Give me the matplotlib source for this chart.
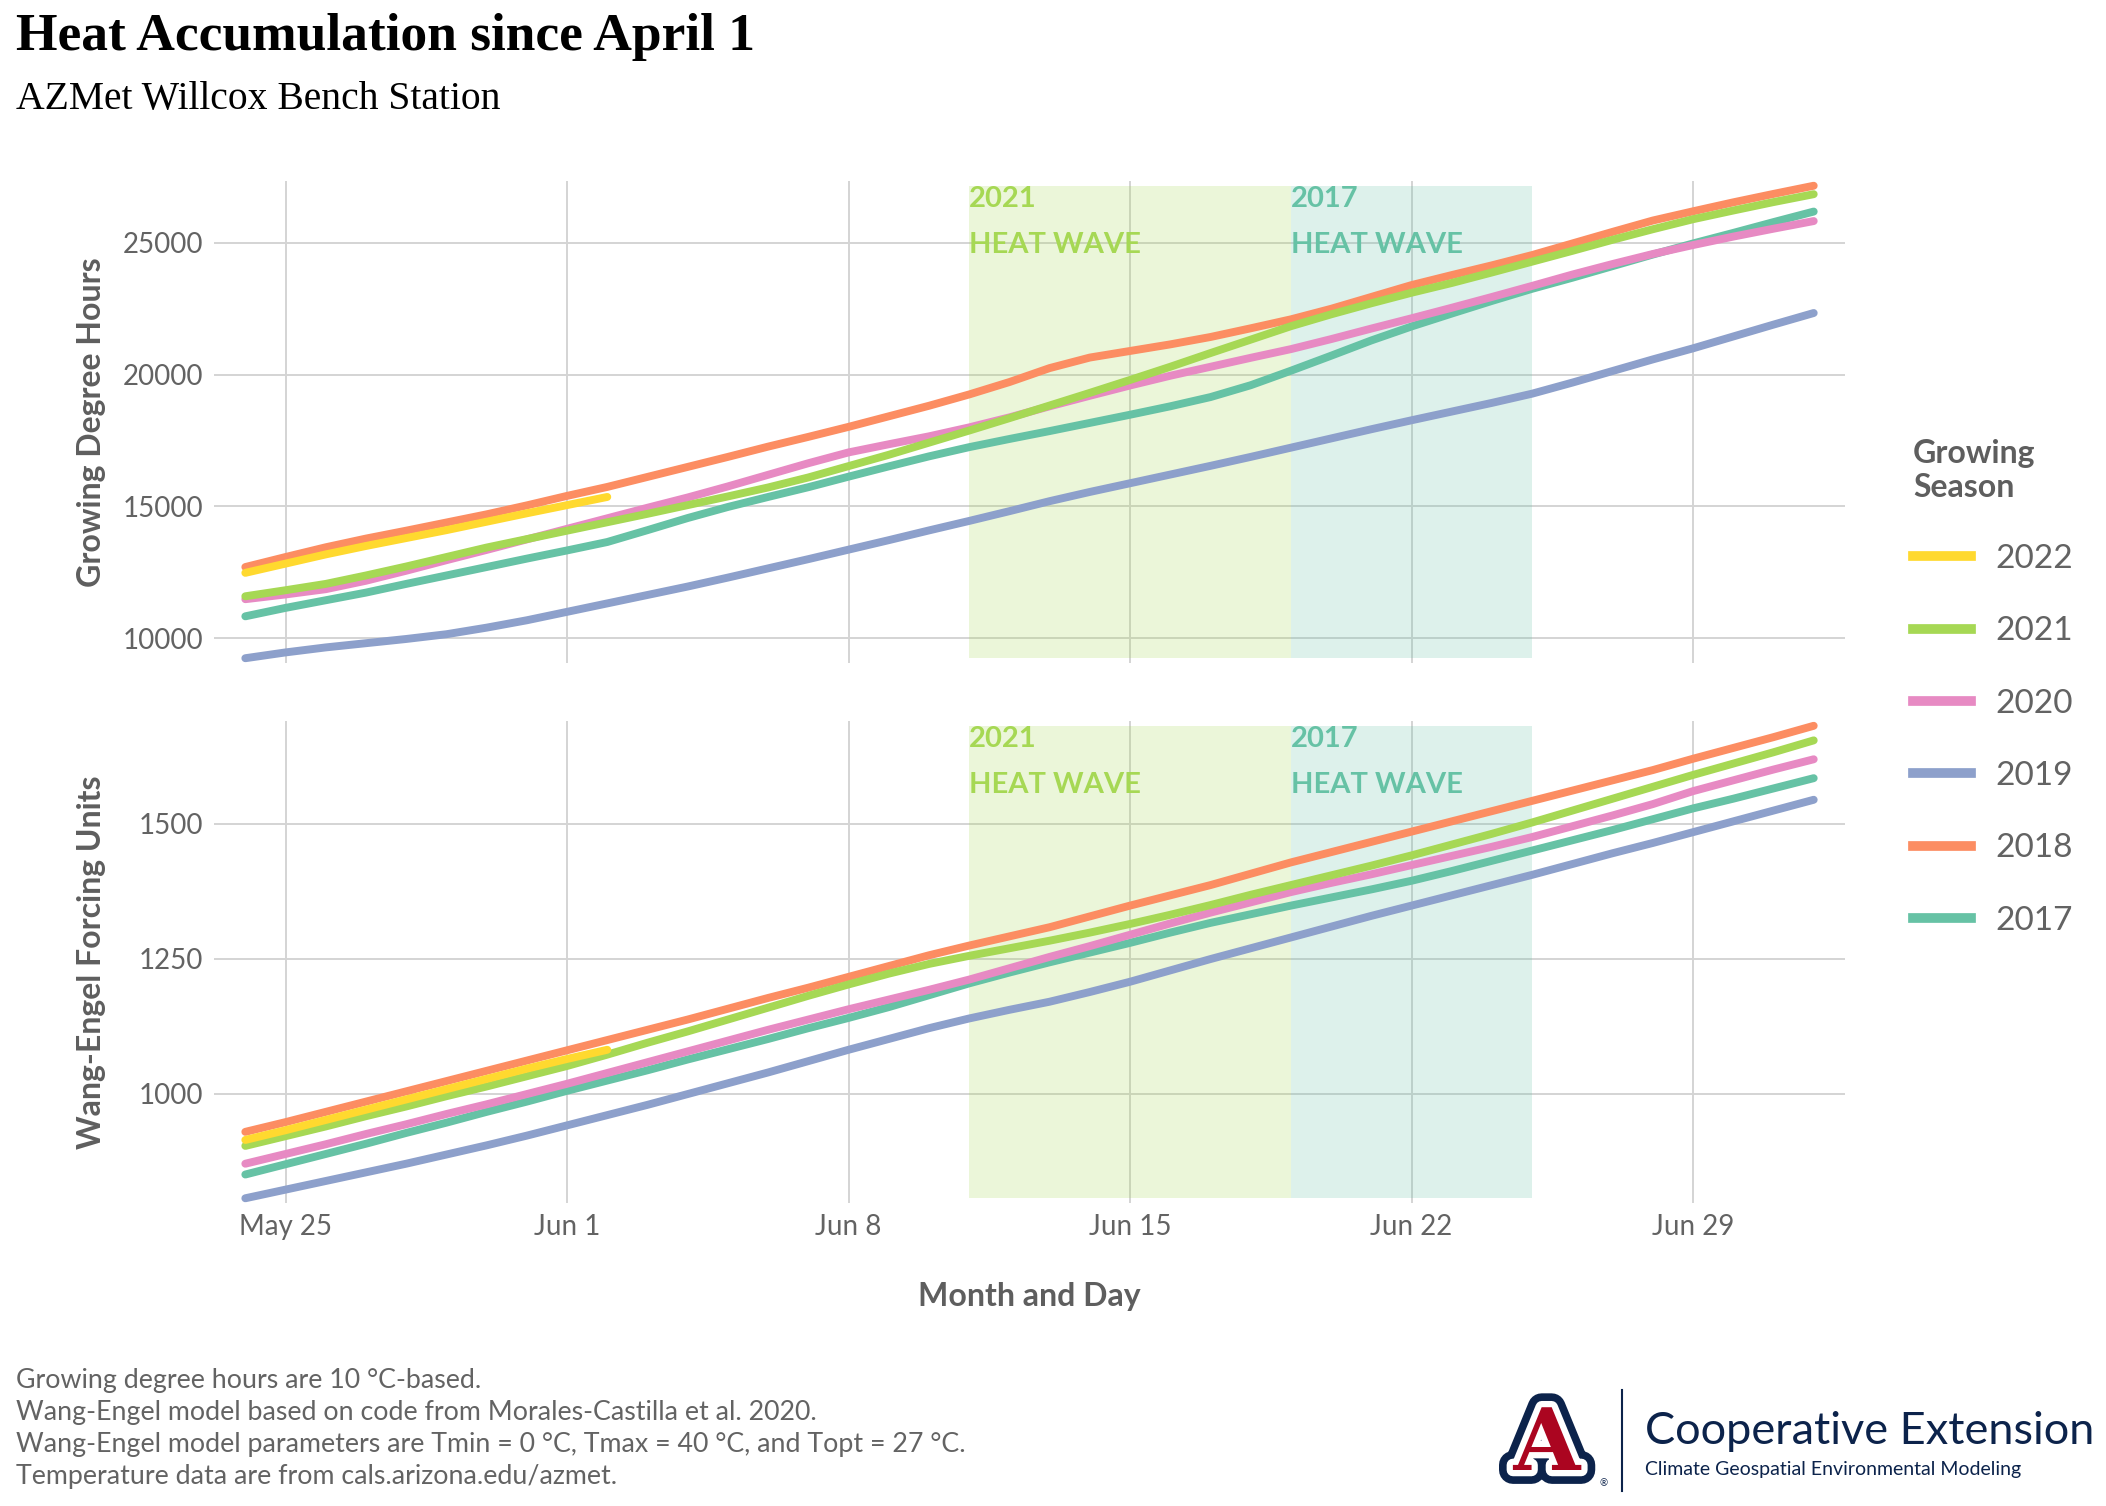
import matplotlib
matplotlib.use("Agg")
import matplotlib.pyplot as plt
import matplotlib.dates as mdates
import matplotlib.patheffects as pe
from matplotlib.lines import Line2D
from matplotlib.ticker import FuncFormatter
import numpy as np
import pandas as pd

plt.rcParams["font.family"] = ["Lato", "DejaVu Sans"]

# days shown on the x axis (May 24 - Jul 2)
dates = pd.date_range("2022-05-24", "2022-07-02", freq="D")
tick_dates = pd.to_datetime(["2022-05-25", "2022-06-01", "2022-06-08",
                             "2022-06-15", "2022-06-22", "2022-06-29"])

seasons = ["2017", "2018", "2019", "2020", "2021", "2022"]
season_colors = ["#66c2a5", "#fc8d62", "#8da0cb", "#e78ac3", "#a6d854", "#ffd92f"]

# growing degree hours, cumulative since April 1
gdh_2017 = [10830, 11150, 11440, 11730, 12060, 12380, 12700, 13020, 13330, 13650,
            14100, 14560, 14980, 15360, 15730, 16130, 16520, 16900, 17250, 17560,
            17860, 18170, 18480, 18800, 19150, 19600, 20150, 20720, 21300, 21830,
            22320, 22800, 23260, 23680, 24120, 24560, 24980, 25380, 25790, 26190]
gdh_2018 = [12700, 13080, 13450, 13780, 14080, 14390, 14700, 15040, 15400, 15740,
            16120, 16500, 16880, 17270, 17640, 18020, 18420, 18820, 19250, 19720,
            20250, 20650, 20900, 21150, 21430, 21760, 22100, 22500, 22950, 23400,
            23780, 24150, 24540, 24980, 25420, 25850, 26200, 26540, 26860, 27170]
gdh_2019 = [9240, 9460, 9650, 9810, 9970, 10150, 10400, 10680, 11000, 11320,
            11640, 11960, 12300, 12650, 13000, 13360, 13720, 14090, 14450, 14820,
            15200, 15550, 15880, 16210, 16540, 16880, 17230, 17580, 17930, 18270,
            18600, 18930, 19280, 19700, 20140, 20580, 21000, 21450, 21900, 22340]
gdh_2020 = [11480, 11660, 11860, 12180, 12560, 12960, 13350, 13750, 14150, 14550,
            14950, 15340, 15760, 16200, 16640, 17050, 17360, 17660, 18000, 18380,
            18800, 19200, 19590, 19960, 20300, 20640, 20970, 21350, 21750, 22140,
            22540, 22950, 23370, 23800, 24200, 24580, 24920, 25240, 25540, 25830]
gdh_2021 = [11590, 11820, 12060, 12380, 12720, 13080, 13440, 13760, 14080, 14400,
            14720, 15050, 15380, 15720, 16100, 16530, 16960, 17420, 17880, 18350,
            18830, 19310, 19800, 20300, 20820, 21330, 21840, 22290, 22710, 23110,
            23480, 23880, 24290, 24700, 25120, 25520, 25900, 26230, 26550, 26850]
gdh_2022 = [12480, 12830, 13180, 13500, 13800, 14100, 14420, 14740, 15050, 15360]

# Wang-Engel forcing units, cumulative since April 1
we_2017 = [850, 869, 888, 907, 927, 946, 966, 985, 1005, 1024,
           1043, 1063, 1082, 1101, 1121, 1140, 1160, 1182, 1204, 1224,
           1243, 1261, 1279, 1298, 1316, 1332, 1348, 1363, 1378, 1394,
           1412, 1431, 1450, 1469, 1488, 1508, 1528, 1546, 1565, 1584]
we_2018 = [929, 947, 966, 985, 1004, 1023, 1042, 1061, 1080, 1099,
           1118, 1137, 1157, 1177, 1196, 1216, 1236, 1256, 1274, 1291,
           1308, 1328, 1348, 1367, 1386, 1407, 1428, 1447, 1466, 1485,
           1504, 1523, 1542, 1561, 1580, 1599, 1620, 1640, 1660, 1681]
we_2019 = [806, 822, 838, 854, 870, 887, 904, 922, 941, 960,
           979, 999, 1019, 1039, 1060, 1081, 1101, 1121, 1139, 1155,
           1170, 1188, 1207, 1228, 1249, 1269, 1289, 1309, 1329, 1348,
           1367, 1386, 1405, 1425, 1445, 1464, 1484, 1504, 1524, 1544]
we_2020 = [870, 888, 906, 925, 943, 962, 980, 999, 1018, 1038,
           1058, 1078, 1098, 1118, 1137, 1156, 1174, 1192, 1211, 1232,
           1253, 1273, 1294, 1315, 1335, 1354, 1373, 1390, 1406, 1423,
           1440, 1457, 1475, 1495, 1515, 1536, 1560, 1580, 1600, 1619]
we_2021 = [903, 921, 939, 958, 976, 995, 1013, 1032, 1051, 1072,
           1094, 1115, 1137, 1159, 1181, 1202, 1222, 1240, 1255, 1269,
           1283, 1298, 1314, 1331, 1349, 1368, 1386, 1404, 1422, 1441,
           1461, 1481, 1502, 1524, 1546, 1568, 1590, 1611, 1632, 1654]
we_2022 = [914, 932, 951, 970, 989, 1008, 1027, 1046, 1064, 1081]

# heat waves shaded on both panels
hw_years = ["2021", "2017"]
hw_start = pd.to_datetime(["2022-06-11", "2022-06-19"])
hw_end = pd.to_datetime(["2022-06-19", "2022-06-25"])
hw_colors = ["#a6d854", "#66c2a5"]

gdh = [gdh_2017, gdh_2018, gdh_2019, gdh_2020, gdh_2021, gdh_2022]
we = [we_2017, we_2018, we_2019, we_2020, we_2021, we_2022]

text_gray = "#636363"
title_gray = "#5e5e5e"
navy = "#0C234B"

fig = plt.figure(figsize=(21.06, 15.06), dpi=100)
ax1 = fig.add_axes([0.1016, 0.5598, 0.7745, 0.3200])
ax2 = fig.add_axes([0.1016, 0.2012, 0.7745, 0.3200])

xlo = mdates.date2num(dates[0]) - 0.78
xhi = mdates.date2num(dates[-1]) + 0.78

for ax, series, ylabel, yticks in [
        (ax1, gdh, "Growing Degree Hours", [10000, 15000, 20000, 25000]),
        (ax2, we, "Wang-Engel Forcing Units", [1000, 1250, 1500])]:
    lo = min(min(s) for s in series)
    hi = max(max(s) for s in series)
    pad = (hi - lo) * 0.01

    # heat wave boxes and labels
    tr = matplotlib.transforms.blended_transform_factory(ax.transData, ax.transAxes)
    for yr, s, e, c in zip(hw_years, hw_start, hw_end, hw_colors):
        ax.fill_between([s, e], lo, hi, color=c, alpha=0.22, lw=0, zorder=1)
        ax.text(s, 0.99, yr, transform=tr, color=c, fontsize=21, fontweight="bold",
                va="top", ha="left", zorder=3)
        ax.text(s, 0.895, "HEAT WAVE", transform=tr, color=c, fontsize=21,
                fontweight="bold", va="top", ha="left", zorder=3)

    for yr, vals, c in zip(seasons, series, season_colors):
        ax.plot(dates[:len(vals)], vals, color=c, lw=5.7, solid_capstyle="round",
                zorder=2, label=yr)

    ax.set_xlim(xlo, xhi)
    ax.set_ylim(lo - pad, hi + pad)
    ax.set_yticks(yticks)
    ax.set_xticks(tick_dates)
    ax.xaxis.set_major_formatter(FuncFormatter(
        lambda v, p: f"{mdates.num2date(v):%b} {mdates.num2date(v).day}"))
    ax.grid(True, color="#d4d4d4", lw=1.4)
    ax.set_axisbelow(True)
    for sp in ax.spines.values():
        sp.set_visible(False)
    ax.tick_params(length=0, labelsize=20, labelcolor=text_gray, pad=8)
    ax.set_ylabel(ylabel, fontsize=23, fontweight="bold", color=title_gray)
    ax.yaxis.set_label_coords(-0.066, 0.5)

ax1.tick_params(labelbottom=False)
ax2.set_xlabel("Month and Day", fontsize=23, fontweight="bold", color=title_gray)
ax2.xaxis.set_label_coords(0.5, -0.195)
ax2.xaxis.label.set_va("center")

# legend, newest season first
handles = [Line2D([0], [0], color=c, lw=7) for c in season_colors][::-1]
leg = fig.legend(handles, seasons[::-1], title="Growing\nSeason", loc="upper left",
                 bbox_to_anchor=(0.9084, 0.7085), frameon=False, fontsize=24,
                 title_fontproperties={"weight": "bold", "size": 23},
                 handlelength=1.75, handletextpad=0.72, labelspacing=1.27,
                 borderpad=0, borderaxespad=0, alignment="left")
leg.get_title().set_color(title_gray)
for t in leg.get_texts():
    t.set_color(text_gray)

# titles
fig.text(0.0076, 1 - 50 / 1506, "Heat Accumulation since April 1",
         family="Liberation Serif", fontweight="bold", fontsize=38.5, va="baseline")
fig.text(0.0076, 1 - 109 / 1506, "AZMet Willcox Bench Station",
         family="Liberation Serif", fontsize=28.5, va="baseline")

# notes
notes = ["Growing degree hours are 10 \u00b0C-based.",
         "Wang-Engel model based on code from Morales-Castilla et al. 2020.",
         "Wang-Engel model parameters are Tmin = 0 \u00b0C, Tmax = 40 \u00b0C, and Topt = 27 \u00b0C.",
         "Temperature data are from cals.arizona.edu/azmet."]
for i, n in enumerate(notes):
    fig.text(0.0076, 1 - (1388 + 32 * i) / 1506, n, fontsize=19.3, color=text_gray,
             va="baseline")

# logo block
fig.text(1547 / 2106, 1 - 1446 / 1506, "A", family="DejaVu Serif", fontweight="bold",
         fontsize=62, color="#AB0520", ha="center", va="center",
         path_effects=[pe.Stroke(linewidth=20, foreground=navy),
                       pe.Stroke(linewidth=9, foreground="white"), pe.Normal()])
fig.text(1604 / 2106, 1 - 1484 / 1506, "\u00ae", fontsize=7, color=navy,
         ha="center", va="center")
fig.add_artist(Line2D([1622 / 2106, 1622 / 2106], [1 - 1390 / 1506, 1 - 1491 / 1506],
                      color=navy, lw=1.5))
fig.text(1645 / 2106, 1 - 1431 / 1506, "Cooperative Extension", fontsize=32.5,
         color=navy, va="center", ha="left")
fig.text(1645 / 2106, 1 - 1470 / 1506, "Climate Geospatial Environmental Modeling",
         fontsize=14, color=navy, va="center", ha="left")

fig.savefig("out.png", dpi=100)
